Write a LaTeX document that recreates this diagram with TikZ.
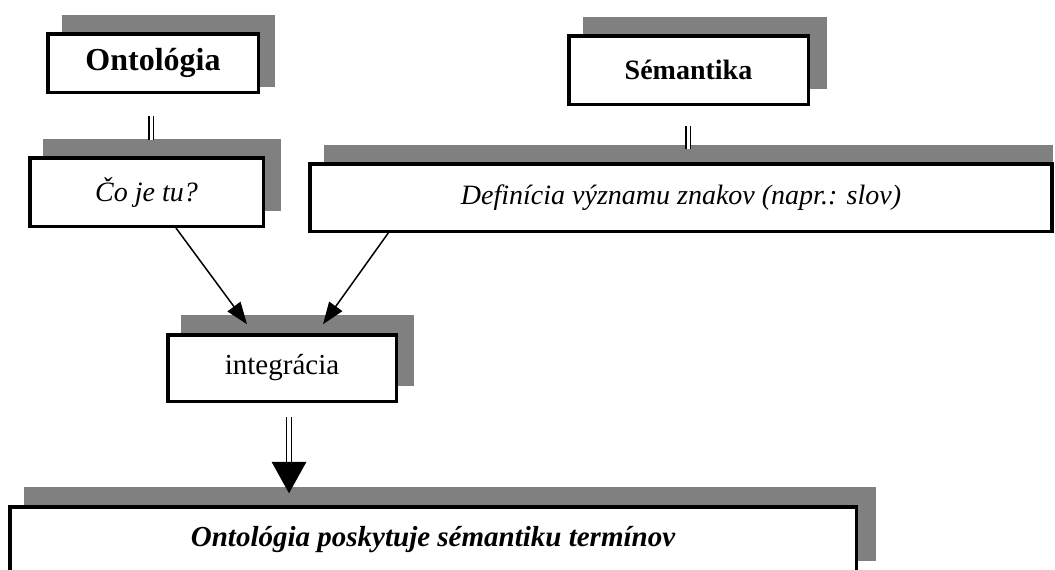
\documentclass[tikz,border=0pt]{standalone}
\usepackage{fontspec}
\setmainfont{Liberation Serif}
\usetikzlibrary{arrows.meta,calc}
\definecolor{shadowgray}{RGB}{128,128,128}
\tikzset{
  boxnode/.style={draw=black, line width=3.5pt, fill=white, inner sep=0pt, font=\fontsize{28}{34}\selectfont},
  shadowbox/.style={fill=shadowgray},
  dbl/.style={draw=black, double=white, double distance=3pt, line width=1.1pt},
  arr/.style={line width=1.5pt, -{Triangle[length=22pt,width=16pt]}},
}
\begin{document}
\begin{tikzpicture}[x=1pt,y=-1pt]
\useasboundingbox (0,0) rectangle (1055,570);
\clip (0,0) rectangle (1055,570);
% shadows
\fill[shadowbox] (62,15) rectangle (275,87);
\fill[shadowbox] (43,139) rectangle (281,211);
\fill[shadowbox] (583,17) rectangle (827,89);
\fill[shadowbox] (324,145) rectangle (1053,216);
\fill[shadowbox] (181,315) rectangle (414,386);
\fill[shadowbox] (24,487) rectangle (876,561);
% boxes
\node[boxnode, minimum width=210.5pt, minimum height=58.5pt, font=\fontsize{32}{38}\selectfont] (onto) at (153,63) {\bfseries Ontológia};
\node[boxnode, minimum width=233.5pt, minimum height=68.5pt] (co) at (146.5,192) {\itshape Čo je tu?};
\node[boxnode, minimum width=239.5pt, minimum height=68.5pt] (sem) at (688.5,70) {\bfseries Sémantika};
\node[boxnode, minimum width=742pt, minimum height=67.5pt] (def) at (681,197.5) {\itshape Definícia významu znakov (napr.: slov)};
\node[boxnode, minimum width=228.5pt, minimum height=66.5pt, font=\fontsize{29}{35}\selectfont] (integ) at (282,368) {integrácia};
\node[boxnode, minimum width=846.5pt, minimum height=66.5pt, font=\fontsize{29}{35}\selectfont] (bot) at (433,540) {\bfseries\itshape Ontológia poskytuje sémantiku termínov};
% double lines
\draw[dbl] ([xshift=-2pt,yshift=-22pt]onto.south) -- ([xshift=4.5pt,yshift=16.5pt]co.north);
\draw[dbl] ([xshift=-0.5pt,yshift=-19.5pt]sem.south) -- ([xshift=7pt,yshift=13.5pt]def.north);
% arrows
\draw[arr] ([xshift=148pt]co.south west) -- ([xshift=81pt,yshift=8.75pt]integ.north west);
\draw[arr] ([xshift=80pt]def.south west) -- ([xshift=157pt,yshift=8.75pt]integ.north west);
% big arrow
\coordinate (base) at ([xshift=7pt,yshift=-58.75pt]integ.south);
\coordinate (tip) at ([xshift=-144pt,yshift=11.75pt]bot.north);
\draw[dbl, double distance=4pt, line width=1pt] ([xshift=7pt,yshift=-13.75pt]integ.south) -- (base);
\fill[black] ($(base)+(-17.5,0)$) -- ($(base)+(17.5,0)$) -- (tip) -- cycle;
\end{tikzpicture}
\end{document}
